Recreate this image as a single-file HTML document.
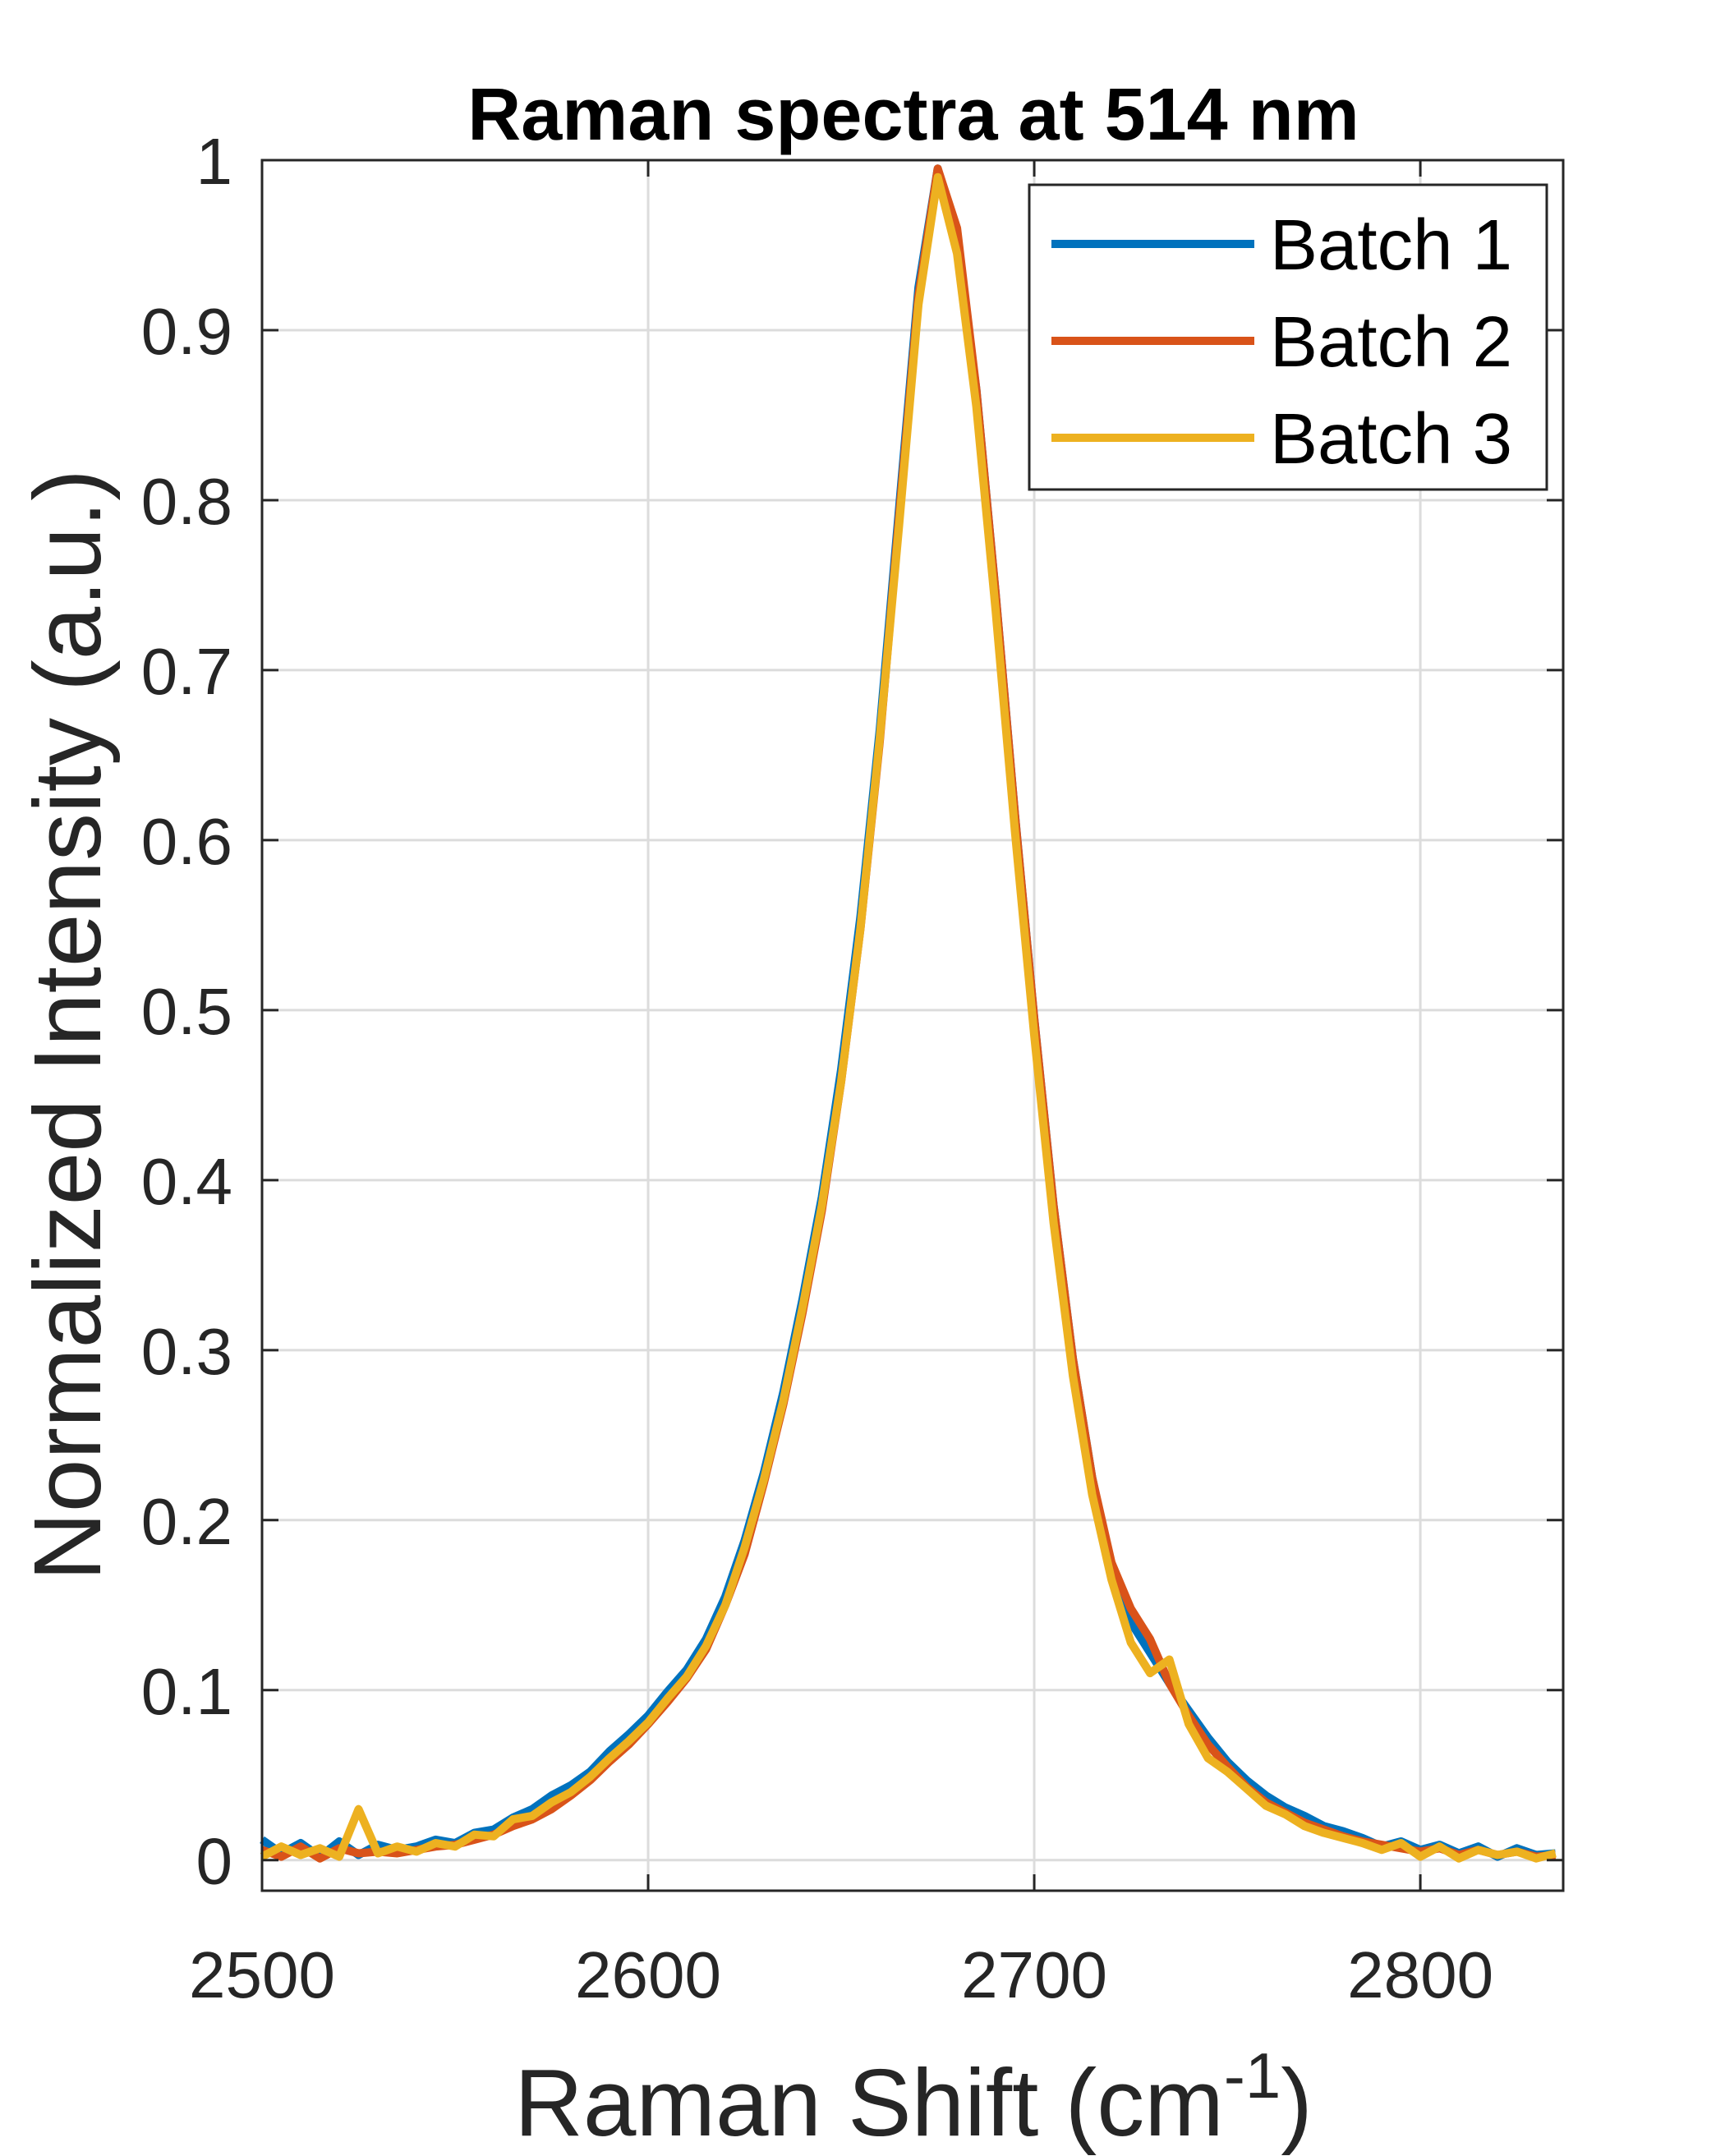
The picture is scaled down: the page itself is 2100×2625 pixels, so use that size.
<!DOCTYPE html>
<html><head><meta charset="utf-8"><style>
html,body{margin:0;padding:0;background:#fff;}
svg{display:block;font-family:"Liberation Sans",Arial,sans-serif;}
</style></head><body>
<svg id="chart" width="2100" height="2625" viewBox="0 0 2100 2625" xmlns="http://www.w3.org/2000/svg">
<rect width="2100" height="2625" fill="#fff"/>
<g id="grid"></g>
<g id="series"></g>
<g id="axes"></g>
<text x="1112" y="170" font-size="90" font-weight="bold" text-anchor="middle" fill="#000">Raman spectra at 514 nm</text>
<text transform="translate(122,1248) rotate(-90)" font-size="116" text-anchor="middle" fill="#262626">Normalized Intensity (a.u.)</text>
<text x="1112" y="2600" font-size="116" text-anchor="middle" fill="#262626">Raman Shift (cm<tspan dy="-46" font-size="78">-1</tspan><tspan dy="46">)</tspan></text>
<g id="legend"></g>
</svg>
<script>
const xValues = [2500,2505,2510,2515,2520,2525,2530,2535,2540,2545,2550,2555,2560,2565,2570,2575,2580,2585,2590,2595,2600,2605,2610,2615,2620,2625,2630,2635,2640,2645,2650,2655,2660,2665,2670,2675,2680,2685,2690,2695,2700,2705,2710,2715,2720,2725,2730,2735,2740,2745,2750,2755,2760,2765,2770,2775,2780,2785,2790,2795,2800,2805,2810,2815,2820,2825,2830,2835];
const batch1 = [0.012,0.004,0.010,0.002,0.011,0.003,0.009,0.006,0.008,0.012,0.010,0.016,0.018,0.025,0.030,0.038,0.044,0.052,0.064,0.074,0.085,0.099,0.112,0.130,0.155,0.188,0.228,0.275,0.330,0.390,0.465,0.555,0.665,0.795,0.925,0.995,0.950,0.865,0.745,0.615,0.495,0.385,0.295,0.225,0.172,0.140,0.122,0.104,0.088,0.072,0.058,0.047,0.038,0.031,0.026,0.020,0.017,0.013,0.008,0.011,0.006,0.009,0.004,0.008,0.002,0.007,0.003,0.004];
const batch2 = [0.006,0.002,0.008,0.001,0.007,0.004,0.005,0.004,0.006,0.008,0.009,0.012,0.015,0.020,0.024,0.030,0.038,0.047,0.058,0.068,0.080,0.093,0.107,0.124,0.150,0.180,0.222,0.268,0.322,0.382,0.458,0.548,0.658,0.790,0.920,0.995,0.960,0.865,0.745,0.615,0.495,0.385,0.295,0.225,0.175,0.148,0.130,0.104,0.085,0.068,0.055,0.043,0.034,0.028,0.022,0.018,0.014,0.011,0.009,0.007,0.005,0.007,0.003,0.006,0.003,0.005,0.002,0.003];
const batch3 = [0.002,0.008,0.003,0.007,0.002,0.030,0.004,0.008,0.005,0.010,0.008,0.015,0.014,0.024,0.026,0.034,0.040,0.049,0.060,0.070,0.081,0.095,0.108,0.126,0.150,0.184,0.224,0.270,0.325,0.385,0.458,0.548,0.660,0.785,0.915,0.990,0.945,0.855,0.735,0.605,0.485,0.375,0.285,0.215,0.165,0.128,0.110,0.118,0.080,0.060,0.052,0.042,0.032,0.027,0.020,0.016,0.013,0.010,0.006,0.010,0.002,0.008,0.001,0.006,0.003,0.005,0.001,0.004];
const seriesNames = ["Batch 1","Batch 2","Batch 3"];
const seriesColors = ["#0072BD","#D95319","#EDB120"];
const xTicks = [2500,2600,2700,2800];
const yTicks = [0,0.1,0.2,0.3,0.4,0.5,0.6,0.7,0.8,0.9,1];
const yTickLabels = ["0","0.1","0.2","0.3","0.4","0.5","0.6","0.7","0.8","0.9","1"];

const L=319,R=1903,T=195,B=2302;
const X0=2500,X1=2837,Y0=-0.018,Y1=1;
const sx=v=>L+(v-X0)/(X1-X0)*(R-L);
const sy=v=>B-(v-Y0)/(Y1-Y0)*(B-T);
const NS="http://www.w3.org/2000/svg";
function mk(tag,attrs,parent){const e=document.createElementNS(NS,tag);for(const k in attrs)e.setAttribute(k,attrs[k]);parent.appendChild(e);return e;}
const grid=document.getElementById('grid'),axes=document.getElementById('axes'),ser=document.getElementById('series'),leg=document.getElementById('legend');

xTicks.forEach(t=>{
  const g=mk('line',{x1:sx(t),x2:sx(t),y1:T,y2:B,stroke:'#dcdcdc','stroke-width':3},grid);
  
  
  mk('line',{x1:sx(t),x2:sx(t),y1:B,y2:B-20,stroke:'#262626','stroke-width':3},axes);
  mk('line',{x1:sx(t),x2:sx(t),y1:T,y2:T+20,stroke:'#262626','stroke-width':3},axes);
  const tx=mk('text',{x:sx(t),y:2432,'font-size':80,'text-anchor':'middle',fill:'#262626'},axes);
  tx.textContent=t;
  
  
});
yTicks.forEach((t,i)=>{
  const g=mk('line',{x1:L,x2:R,y1:sy(t),y2:sy(t),stroke:'#dcdcdc','stroke-width':3},grid);
  
  
  mk('line',{x1:L,x2:L+20,y1:sy(t),y2:sy(t),stroke:'#262626','stroke-width':3},axes);
  mk('line',{x1:R,x2:R-20,y1:sy(t),y2:sy(t),stroke:'#262626','stroke-width':3},axes);
  const tx=mk('text',{x:283,y:sy(t)+29,'font-size':80,'text-anchor':'end',fill:'#262626'},axes);
  tx.textContent=yTickLabels[i];
  
  
});
const frame=mk('rect',{x:L,y:T,width:R-L,height:B-T,fill:'none',stroke:'#262626','stroke-width':3},axes);



[batch1,batch2,batch3].forEach((arr,si)=>{
  const d=arr.map((v,i)=>(i?'L':'M')+sx(xValues[i]).toFixed(1)+','+sy(v).toFixed(1)).join(' ');
  const p=mk('path',{d:d,fill:'none',stroke:seriesColors[si],'stroke-width':10,'stroke-linejoin':'round'},ser);
  
  
});

const box=mk('rect',{x:1253,y:225,width:630,height:371,fill:'#fff',stroke:'#262626','stroke-width':3},leg);


seriesNames.forEach((n,i)=>{
  const y=297+i*118;
  const ln=mk('line',{x1:1280,x2:1527,y1:y,y2:y,stroke:seriesColors[i],'stroke-width':10},leg);
  
  
  const tx=mk('text',{x:1546,y:y+31,'font-size':87,fill:'#000'},leg);
  tx.textContent=n;
  
  
});
</script>
</body></html>
